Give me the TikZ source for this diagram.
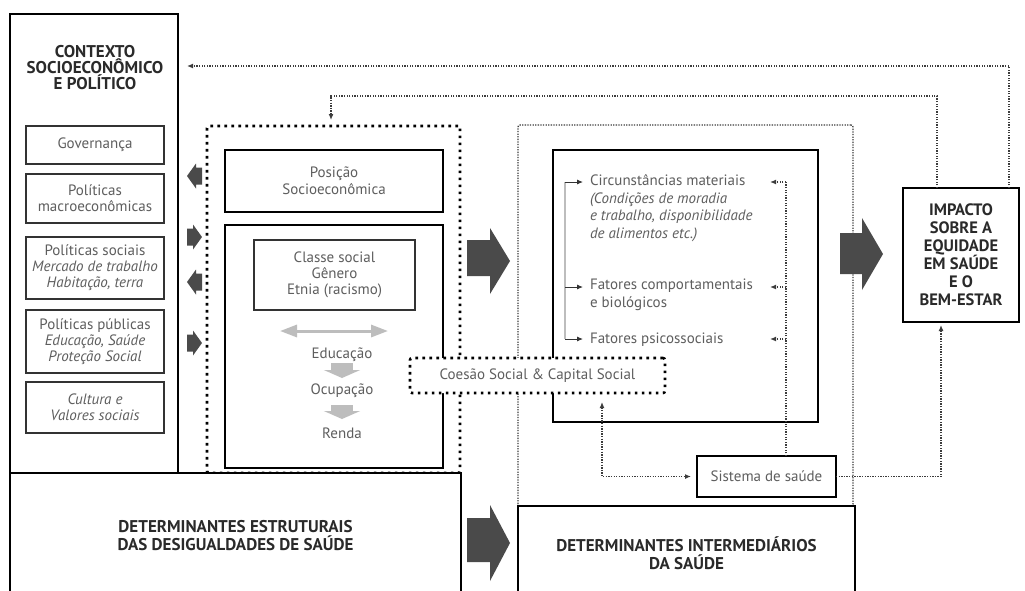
\documentclass[tikz,border=0pt]{standalone}
\usepackage{fontspec}
\setmainfont{PT Sans}
\usetikzlibrary{arrows.meta,calc}
\definecolor{txtc}{HTML}{5E5E5E}
\definecolor{headc}{HTML}{2A2A2A}
\definecolor{arrc}{HTML}{4A4A4A}
\definecolor{lgrey}{HTML}{BDBDBD}
\definecolor{dotc}{HTML}{3C3C3C}
\begin{document}
\begin{tikzpicture}[x=1pt,y=-1pt,
  every node/.style={inner sep=0pt, outer sep=0pt},
  thinbox/.style={draw=black!80, line width=1.5pt},
  thickbox/.style={draw=black, line width=2.6pt},
  bigdots/.style={draw=black, line width=2.6pt, dash pattern=on 2.6pt off 4.4pt},
  smalldots/.style={draw=dotc, line width=1.3pt, dash pattern=on 1.3pt off 1.3pt},
  body/.style={text=txtc, font=\fontsize{15}{16}\selectfont, align=center},
  headtxt/.style={text=headc, font=\bfseries\fontsize{17}{16}\selectfont, align=center},
  tip/.style={-{Latex[length=6pt,width=5pt]}},
  bothtip/.style={{Latex[length=6pt,width=5pt]}-{Latex[length=6pt,width=5pt]}},
  darkarrow/.style={fill=arrc, draw=none},
  greydown/.style={draw=lgrey, line width=22pt, -{Triangle[length=8pt,width=36pt]}},
]
\useasboundingbox (0,0) rectangle (1025,590);
\clip (0,0) rectangle (1025,590);
\fill[white] (0,0) rectangle (1025,590);

% dotted frames
\node[bigdots, rounded corners=2pt, minimum width=253pt, minimum height=347pt] (struct) at (333.5,299.5) {};
\node[smalldots, rounded corners=2pt, minimum width=335pt, minimum height=381pt] (interm) at (685.5,315.5) {};

% context column
\node[thickbox, minimum width=168pt, minimum height=459pt] (ctx) at (94,243.5) {};
\node[headtxt] (ctxtitle) at (95,68) {CONTEXTO\\SOCIOECONÔMICO\\E POLÍTICO};
\node[thinbox, body, minimum width=138pt, minimum height=38pt] (gov) at (95,145) {Governança};
\node[thinbox, body, minimum width=138pt, minimum height=49pt] (macro) at (95,198.5) {Políticas\\macroeconômicas};
\node[thinbox, body, minimum width=138pt, minimum height=62pt] (soc) at (95,268) {Políticas sociais\\\textit{Mercado de trabalho}\\\textit{Habitação, terra}};
\node[thinbox, body, minimum width=138pt, minimum height=63pt] (pub) at (95,341.5) {Políticas públicas\\\textit{Educação, Saúde}\\\textit{Proteção Social}};
\node[thinbox, body, minimum width=138pt, minimum height=51pt] (cult) at (95,407.5) {\textit{Cultura e}\\\textit{Valores sociais}};

% small arrows between context and structural frame
\fill[darkarrow] (202,167.5) -- (202,184.5) -- (196,184.5) -- (196,188.5) -- (187,176) -- (196,163.5) -- (196,167.5) -- cycle;
\fill[darkarrow] (187,228.5) -- (187,245.5) -- (193,245.5) -- (193,249.5) -- (202,237) -- (193,224.5) -- (193,228.5) -- cycle;
\fill[darkarrow] (202,273.5) -- (202,290.5) -- (196,290.5) -- (196,294.5) -- (187,282) -- (196,269.5) -- (196,273.5) -- cycle;
\fill[darkarrow] (187,334.5) -- (187,351.5) -- (193,351.5) -- (193,355.5) -- (202,343) -- (193,330.5) -- (193,334.5) -- cycle;

% structural determinants
\node[thickbox, body, font=\fontsize{15}{17}\selectfont, minimum width=218pt, minimum height=62pt] (pos) at (334,181) {Posição\\Socioeconômica};
\node[thickbox, minimum width=218pt, minimum height=243pt] (inner) at (334,346.5) {};
\node[thinbox, body, minimum width=161pt, minimum height=70pt] (classe) at (334.5,275) {Classe social\\Gênero\\Etnia (racismo)};
\coordinate (dl) at (280,331);
\coordinate (dr) at (388,331);
\draw[lgrey, line width=3pt, {Triangle[length=17pt,width=12pt]}-{Triangle[length=17pt,width=12pt]}] (dl) -- (dr);
\node[body] (edu) at (342,355) {Educação};
\node[body] (ocu) at (342,391) {Ocupação};
\node[body] (ren) at (342,433) {Renda};
\draw[greydown] (342,363) -- (342,378);
\draw[greydown] (342,405) -- (342,419);

% big arrows
\fill[darkarrow] (467,240) -- (490,240) -- (490,228) -- (510,261) -- (490,294) -- (490,276) -- (467,276) -- cycle;
\fill[darkarrow] (840,233) -- (862,233) -- (862,218) -- (883,254) -- (862,290) -- (862,274) -- (840,274) -- cycle;
\fill[darkarrow] (467,518) -- (490,518) -- (490,505) -- (510,543) -- (490,581) -- (490,562) -- (467,562) -- cycle;

% intermediate determinants
\node[thickbox, minimum width=265pt, minimum height=272pt] (mat) at (685.5,286) {};
\node[body, anchor=north west, align=left, font=\fontsize{15}{17.5}\selectfont] (circ) at (590,175) {Circunstâncias materiais\\\textit{(Condições de moradia}\\\textit{e trabalho, disponibilidade}\\\textit{de alimentos etc.)}};
\node[body, anchor=north west, align=left, font=\fontsize{15}{18}\selectfont] (comp) at (590,279) {Fatores comportamentais\\e biológicos};
\node[body, anchor=west] (psi) at (590,340) {Fatores psicossociais};

\coordinate (bt) at (565,182);
\coordinate (bm) at (565,287);
\coordinate (bb) at (565,339);
\draw[lgrey, line width=1.6pt] (bt) -- (bb);
\draw[black!80, line width=0.9pt, tip] (bt) -- (583,182);
\draw[black!80, line width=0.9pt, tip] (bm) -- (583,287);
\draw[black!80, line width=0.9pt, tip] (bb) -- (583,339);

\node[thickbox, body, minimum width=139pt, minimum height=41pt] (sist) at (766.5,476.5) {Sistema de saúde};
\coordinate (rt) at (786,182);
\coordinate (rm) at (786,287);
\coordinate (rb) at (786,339);
\draw[smalldots] ([xshift=19.5pt]sist.north) -- (rt);
\draw[smalldots, tip] (rt) -- (770,182);
\draw[smalldots, tip] (rm) -- (770,287);
\draw[smalldots, tip] (rb) -- (770,339);

\node[thickbox, headtxt, font=\bfseries\fontsize{16.5}{18}\selectfont, minimum width=116pt, minimum height=134pt] (impact) at (961,255) {IMPACTO\\SOBRE A\\EQUIDADE\\EM SAÚDE\\E O\\BEM-ESTAR};

% coesao
\node[bigdots, fill=white, body, minimum width=255pt, minimum height=35pt, rounded corners=2pt] (coes) at (537.5,375.5) {Coesão Social \& Capital Social};

% bottom boxes
\node[thickbox, fill=white, headtxt, font=\bfseries\fontsize{17}{18}\selectfont, minimum width=451pt, minimum height=126pt] (estr) at (235.5,536) {DETERMINANTES ESTRUTURAIS\\DAS DESIGUALDADES DE SAÚDE};
\node[thickbox, fill=white, headtxt, font=\bfseries\fontsize{17}{18}\selectfont, minimum width=337pt, minimum height=94pt] (intb) at (686.5,553) {DETERMINANTES INTERMEDIÁRIOS\\DA SAÚDE};

% feedback connectors
\coordinate (fb1) at (187,66);
\draw[smalldots, tip] ([xshift=48pt]impact.north) |- (fb1);
\coordinate (fb2) at (331,96);
\draw[smalldots, tip, shorten >=6pt] ([xshift=-24pt]impact.north) |- (fb2) -- (fb2 |- struct.north);
\draw[smalldots, tip, shorten >=3pt] (sist.east) -| ([xshift=-20pt]impact.south);
\draw[smalldots, bothtip, shorten <=9pt, shorten >=6pt] ([xshift=64.5pt]coes.south) |- (sist.west);
\end{tikzpicture}
\end{document}
